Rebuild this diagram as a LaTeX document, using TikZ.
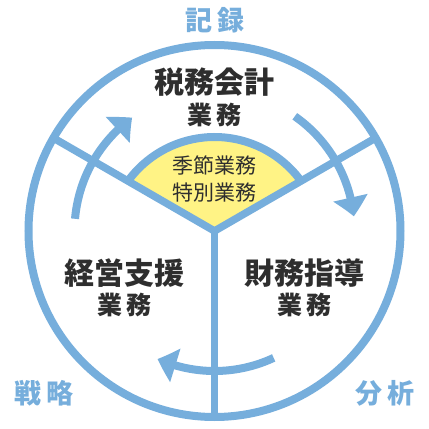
\documentclass[tikz,border=0pt]{standalone}
\usepackage{fontspec}
\newfontfamily\jp{Noto Sans CJK JP}
\usetikzlibrary{arrows.meta,bending,calc}
\definecolor{cblue}{HTML}{76AEDC}
\definecolor{cyellow}{HTML}{FFF385}
\definecolor{ctext}{HTML}{2E2E2E}
\tikzset{
  ring/.style={draw=cblue,line width=8pt},
  spoke/.style={draw=cblue,line width=7.5pt},
  cyc/.style={draw=cblue,line width=8pt,-{Triangle[width=34pt,length=19pt,bend]}},
  mainlbl/.style={inner sep=0pt,text=ctext,font=\jp\bfseries\fontsize{30}{30}\selectfont},
  sublbl/.style={inner sep=0pt,text=ctext,font=\jp\bfseries\fontsize{25}{25}\selectfont},
  centlbl/.style={inner sep=0pt,text=ctext,font=\jp\fontsize{21}{21}\selectfont},
  outlbl/.style={inner sep=0pt,text=cblue,font=\jp\bfseries\fontsize{27}{27}\selectfont}
}
\begin{document}
\begin{tikzpicture}[x=1pt,y=1pt]
\useasboundingbox (0,0) rectangle (429,429);
\fill[white] (0,0) rectangle (429,429);
\coordinate (O) at (214.5,198);
\coordinate (S) at (214.5,185);
% yellow sector
\fill[cyellow] (O) -- ($(S)+(36:107)$) arc[start angle=36,end angle=144,radius=107] -- cycle;
\draw[ring] ($(S)+(36:107)$) arc[start angle=36,end angle=144,radius=107];
% outer ring and spokes
\draw[ring] (O) circle[radius=186];
\coordinate (P1) at ($(O)+(30:186)$);
\coordinate (P2) at ($(O)+(150:186)$);
\coordinate (P3) at ($(O)+(270:186)$);
\draw[spoke] (O) -- (P1);
\draw[spoke] (O) -- (P2);
\draw[spoke] (O) -- (P3);
% cycle arrows
\draw[cyc] ($(O)+(175:140)$) arc[start angle=175,end angle=126,radius=140];
\draw[cyc] ($(O)+(55:140)$) arc[start angle=55,end angle=6,radius=140];
\draw[cyc] ($(O)+(-65:140)$) arc[start angle=-65,end angle=-114,radius=140];
% labels
\node[outlbl] (kiroku) at (215,408.5) {記\hspace{5pt}録};
\node[outlbl] (senryaku) at (44,36) {戦\hspace{5pt}略};
\node[outlbl] (bunseki) at (385,36) {分\hspace{5pt}析};
\node[mainlbl] (zeimu) at (214,346.5) {税務会計};
\node[sublbl] (zeimu2) at (214.5,314) {業\hspace{4pt}務};
\node[centlbl] (kisetsu) at (214.5,264) {季節業務};
\node[centlbl] (tokubetsu) at (214.5,236.5) {特別業務};
\node[mainlbl] (keiei) at (124,155.5) {経営支援};
\node[sublbl] (keiei2) at (124.5,124) {業\hspace{4pt}務};
\node[mainlbl] (zaimu) at (304,155.5) {財務指導};
\node[sublbl] (zaimu2) at (304.5,124) {業\hspace{4pt}務};
\end{tikzpicture}
\end{document}
